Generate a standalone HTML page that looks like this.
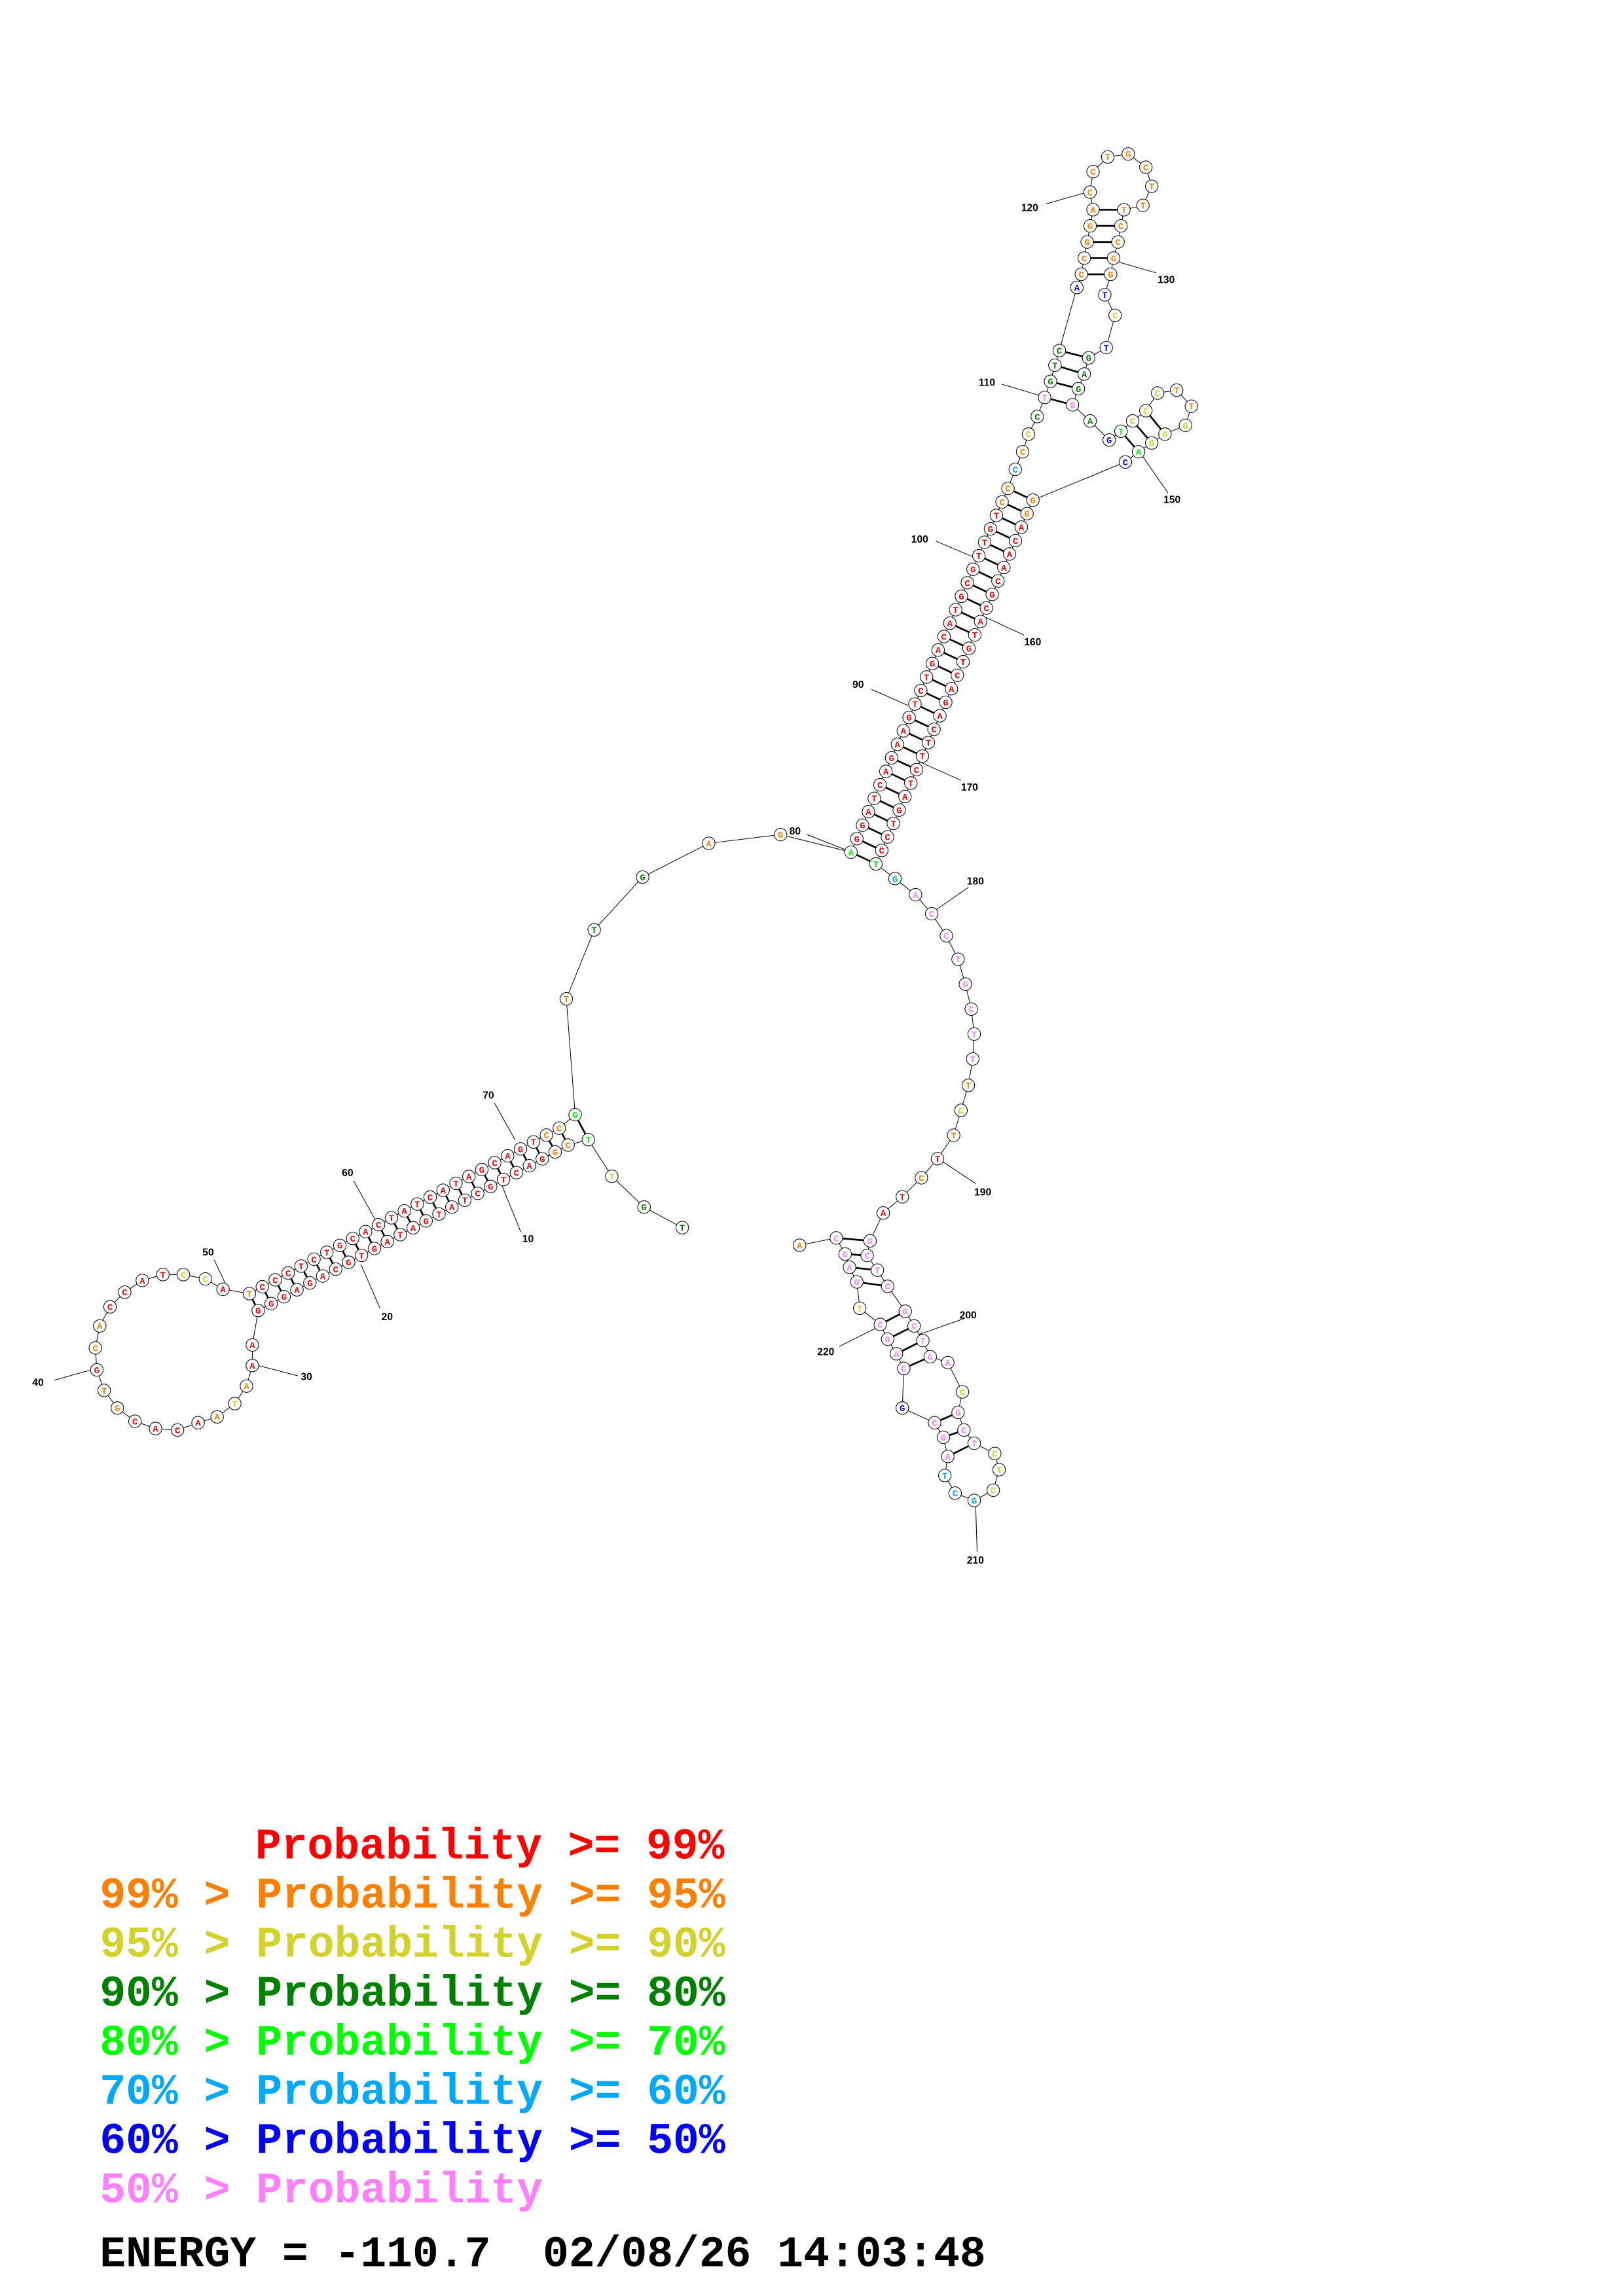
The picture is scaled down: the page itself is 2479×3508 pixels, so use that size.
<!DOCTYPE html>
<html><head><meta charset="utf-8"><style>
html,body{margin:0;padding:0;background:#fff}
svg{display:block}
.n circle{fill:#fff;stroke:#000;stroke-width:.45}
.t text{font-family:"Liberation Mono",monospace;font-weight:bold;font-size:6.2px;text-anchor:middle}
.r{fill:#ff0000}.o{fill:#ff8000}.y{fill:#d2d22a}.g{fill:#008000}.l{fill:#00ff00}.c{fill:#00a8ff}.b{fill:#0000ff}.p{fill:#ff80ff}
.lb text{font-family:"Liberation Sans",sans-serif;font-weight:bold;font-size:7px}
.lg{font-family:"Liberation Mono",monospace;font-weight:bold;font-size:29.6px}
</style></head><body>
<svg width="2479" height="3508" viewBox="0 0 1106.2 1565.4" preserveAspectRatio="none" xmlns="http://www.w3.org/2000/svg">
<rect width="1106.2" height="1565.4" fill="#fff"/>
<!-- backbone -->
<path fill="none" stroke="#000" stroke-width=".45" d="M465,837 L439,823 L417,802 L401,777 L387.2,780.7 L378.4,785.4 L369.6,790.1 L360.8,794.8 L352,799.5 L343.2,804.2 L334.4,808.9 L325.6,813.6 L316.8,818.3 L308,823 L299.2,827.7 L290.4,832.4 L281.6,837.1 L272.8,841.8 L264,846.5 L255.2,851.2 L246.4,855.9 L237.6,860.6 L228.8,865.3 L220,870 L211.2,874.7 L202.4,879.4 L193.6,884.1 L184.8,888.8 L176,893.5 L172,917 L172,931 L168,945 L160,957 L148,966 L135,970 L121,975 L106,974 L92,969 L80,960 L71,948 L66,934 L65,919 L68,904 L75,891 L85,881 L97,873 L111,869 L125,869 L140,872 L152,879 L170,882 L178.8,877.3 L187.6,872.6 L196.4,867.9 L205.2,863.2 L214,858.5 L222.8,853.8 L231.6,849.1 L240.4,844.4 L249.2,839.7 L258,835 L266.8,830.3 L275.6,825.6 L284.4,820.9 L293.2,816.2 L302,811.5 L310.8,806.8 L319.6,802.1 L328.4,797.4 L337.2,792.7 L346,788 L354.8,783.3 L363.6,778.6 L372.4,773.9 L381.2,769.2 L392,760 L386,681 L405,634 L438,598 L483,575 L532,569 L580,581 L687,333 L692,320 L697,308 L701,296 L707,284 L712,271 L716,260 L719,249 L722,239 L734,196 L737,187 L739,176 L741,165 L743,154 L745,143 L743,131 L745,117 L755,107 L769,105 L781,114 L785,127 L779,140 L766,143 L764,154 L762,165 L759,176 L757,187 L753,201 L760,215 L754,237 L742,244 L739,255 L735,265 L731,276 L743,287 L756,300 L764,294 L772,287 L781,280 L789,268 L802,266 L812,277 L808,290 L794,296 L785,302 L776,308 L767,315 L704,341 L597,589 L610,599 L624,610 L635,623 L645,638 L653,654 L658,671 L662,688 L664,705 L663,722 L660,740 L655,757 L650,774 L639,790 L628,803 L615,816 L602,827 L593,846 L591,856 L598,866 L605,877 L617,894 L623,904 L629,914 L634,925 L646,929 L656,949 L653,963 L657,975 L664,984 L678,991 L681,1002 L677,1016 L664,1023 L651,1018 L644,1006 L646,993 L643,980 L637,970 L615,960 L616,933 L611,923 L605,913 L600,903 L586,892 L584,874 L579,864 L576,855 L570,844 L545,849"/>
<!-- pairs -->
<path fill="none" stroke="#000" stroke-width="1.2" d="M170,882L176,893.5M178.8,877.3L184.8,888.8M187.6,872.6L193.6,884.1M196.4,867.9L202.4,879.4M205.2,863.2L211.2,874.7M214,858.5L220,870M222.8,853.8L228.8,865.3M231.6,849.1L237.6,860.6M240.4,844.4L246.4,855.9M249.2,839.7L255.2,851.2M258,835L264,846.5M266.8,830.3L272.8,841.8M275.6,825.6L281.6,837.1M284.4,820.9L290.4,832.4M293.2,816.2L299.2,827.7M302,811.5L308,823M310.8,806.8L316.8,818.3M319.6,802.1L325.6,813.6M328.4,797.4L334.4,808.9M337.2,792.7L343.2,804.2M346,788L352,799.5M354.8,783.3L360.8,794.8M363.6,778.6L369.6,790.1M372.4,773.9L378.4,785.4M381.2,769.2L387.2,780.7M392,760L401,777
M580,581l17,8M584,571.8l17,8M587.9,562.6l17,8M591.9,553.4l17,8M595.9,544.3l17,8M599.8,535.1l17,8M603.8,525.9l17,8M607.7,516.7l17,8M611.7,507.5l17,8M615.7,498.3l17,8M619.6,489.2l17,8M623.6,480l17,8M627.6,470.8l17,8M631.5,461.6l17,8M635.5,452.4l17,8M639.4,443.2l17,8M643.4,434l17,8M647.4,424.9l17,8M651.3,415.7l17,8M655.3,406.5l17,8M659.3,397.3l17,8M663.2,388.1l17,8M667.2,378.9l17,8M671.1,369.7l17,8M675.1,360.6l17,8M679.1,351.4l17,8M683,342.2l17,8M687,333l17,8
M722,239L742,244M719,249L739,255M716,260L735,265M712,271L731,276M737,187L757,187M739,176L759,176M741,165L762,165M743,154L764,154M745,143L766,143
M764,294L776,308M772,287L785,302M781,280L794,296
M593,846L570,844M591,856L576,855M598,866L579,864M605,877L584,874M617,894L600,903M623,904L605,913M629,914L611,923M634,925L616,933M653,963L637,970M657,975L643,980M664,984L646,993"/>
<!-- label lines -->
<path fill="none" stroke="#000" stroke-width=".45" d="M713,139L741,131M788,186L760,178M683,262L710,270M796,336L778,310M638,369L664,380M594,470L619,481M698,433L672,421M655,532L628,520M550,569L578,580M660,605L637,621M665,807L641,791M657,899L626,910M666,1058L665,1027M572,918L598,905M337,752L351,777M241,805L256,832M355,840L342,808M259,892L246,862M203,938L176,931M37,941L62,934M146,859L154,876"/>
<g class="lb">
<text x="696" y="144">120</text><text x="789" y="193">130</text><text x="667" y="263">110</text><text x="793" y="343">150</text><text x="621" y="370">100</text><text x="581" y="469">90</text><text x="698" y="440">160</text><text x="655" y="539">170</text><text x="538" y="569">80</text><text x="659" y="603">180</text><text x="664" y="815">190</text><text x="654" y="899">200</text><text x="659" y="1066">210</text><text x="557" y="924">220</text><text x="329" y="749">70</text><text x="233" y="802">60</text><text x="356" y="847">10</text><text x="260" y="900">20</text><text x="205" y="941">30</text><text x="22" y="945">40</text><text x="138" y="856">50</text>
</g>
<!-- circles -->
<g class="n">
<circle cx="465" cy="837" r="4.3"/><circle cx="439" cy="823" r="4.3"/><circle cx="417" cy="802" r="4.3"/><circle cx="401" cy="777" r="4.3"/>
<circle cx="387.2" cy="780.7" r="4.3"/><circle cx="378.4" cy="785.4" r="4.3"/><circle cx="369.6" cy="790.1" r="4.3"/><circle cx="360.8" cy="794.8" r="4.3"/><circle cx="352" cy="799.5" r="4.3"/><circle cx="343.2" cy="804.2" r="4.3"/><circle cx="334.4" cy="808.9" r="4.3"/><circle cx="325.6" cy="813.6" r="4.3"/><circle cx="316.8" cy="818.3" r="4.3"/><circle cx="308" cy="823" r="4.3"/><circle cx="299.2" cy="827.7" r="4.3"/><circle cx="290.4" cy="832.4" r="4.3"/><circle cx="281.6" cy="837.1" r="4.3"/><circle cx="272.8" cy="841.8" r="4.3"/><circle cx="264" cy="846.5" r="4.3"/><circle cx="255.2" cy="851.2" r="4.3"/><circle cx="246.4" cy="855.9" r="4.3"/><circle cx="237.6" cy="860.6" r="4.3"/><circle cx="228.8" cy="865.3" r="4.3"/><circle cx="220" cy="870" r="4.3"/><circle cx="211.2" cy="874.7" r="4.3"/><circle cx="202.4" cy="879.4" r="4.3"/><circle cx="193.6" cy="884.1" r="4.3"/><circle cx="184.8" cy="888.8" r="4.3"/><circle cx="176" cy="893.5" r="4.3"/>
<circle cx="172" cy="917" r="4.3"/><circle cx="172" cy="931" r="4.3"/><circle cx="168" cy="945" r="4.3"/><circle cx="160" cy="957" r="4.3"/><circle cx="148" cy="966" r="4.3"/><circle cx="135" cy="970" r="4.3"/><circle cx="121" cy="975" r="4.3"/><circle cx="106" cy="974" r="4.3"/><circle cx="92" cy="969" r="4.3"/><circle cx="80" cy="960" r="4.3"/><circle cx="71" cy="948" r="4.3"/><circle cx="66" cy="934" r="4.3"/><circle cx="65" cy="919" r="4.3"/><circle cx="68" cy="904" r="4.3"/><circle cx="75" cy="891" r="4.3"/><circle cx="85" cy="881" r="4.3"/><circle cx="97" cy="873" r="4.3"/><circle cx="111" cy="869" r="4.3"/><circle cx="125" cy="869" r="4.3"/><circle cx="140" cy="872" r="4.3"/><circle cx="152" cy="879" r="4.3"/>
<circle cx="170" cy="882" r="4.3"/><circle cx="178.8" cy="877.3" r="4.3"/><circle cx="187.6" cy="872.6" r="4.3"/><circle cx="196.4" cy="867.9" r="4.3"/><circle cx="205.2" cy="863.2" r="4.3"/><circle cx="214" cy="858.5" r="4.3"/><circle cx="222.8" cy="853.8" r="4.3"/><circle cx="231.6" cy="849.1" r="4.3"/><circle cx="240.4" cy="844.4" r="4.3"/><circle cx="249.2" cy="839.7" r="4.3"/><circle cx="258" cy="835" r="4.3"/><circle cx="266.8" cy="830.3" r="4.3"/><circle cx="275.6" cy="825.6" r="4.3"/><circle cx="284.4" cy="820.9" r="4.3"/><circle cx="293.2" cy="816.2" r="4.3"/><circle cx="302" cy="811.5" r="4.3"/><circle cx="310.8" cy="806.8" r="4.3"/><circle cx="319.6" cy="802.1" r="4.3"/><circle cx="328.4" cy="797.4" r="4.3"/><circle cx="337.2" cy="792.7" r="4.3"/><circle cx="346" cy="788" r="4.3"/><circle cx="354.8" cy="783.3" r="4.3"/><circle cx="363.6" cy="778.6" r="4.3"/><circle cx="372.4" cy="773.9" r="4.3"/><circle cx="381.2" cy="769.2" r="4.3"/><circle cx="392" cy="760" r="4.3"/>
<circle cx="386" cy="681" r="4.3"/><circle cx="405" cy="634" r="4.3"/><circle cx="438" cy="598" r="4.3"/><circle cx="483" cy="575" r="4.3"/><circle cx="532" cy="569" r="4.3"/>
<circle cx="580" cy="581" r="4.3"/><circle cx="584" cy="571.8" r="4.3"/><circle cx="587.9" cy="562.6" r="4.3"/><circle cx="591.9" cy="553.4" r="4.3"/><circle cx="595.9" cy="544.3" r="4.3"/><circle cx="599.8" cy="535.1" r="4.3"/><circle cx="603.8" cy="525.9" r="4.3"/><circle cx="607.7" cy="516.7" r="4.3"/><circle cx="611.7" cy="507.5" r="4.3"/><circle cx="615.7" cy="498.3" r="4.3"/><circle cx="619.6" cy="489.2" r="4.3"/><circle cx="623.6" cy="480" r="4.3"/><circle cx="627.6" cy="470.8" r="4.3"/><circle cx="631.5" cy="461.6" r="4.3"/><circle cx="635.5" cy="452.4" r="4.3"/><circle cx="639.4" cy="443.2" r="4.3"/><circle cx="643.4" cy="434" r="4.3"/><circle cx="647.4" cy="424.9" r="4.3"/><circle cx="651.3" cy="415.7" r="4.3"/><circle cx="655.3" cy="406.5" r="4.3"/><circle cx="659.3" cy="397.3" r="4.3"/><circle cx="663.2" cy="388.1" r="4.3"/><circle cx="667.2" cy="378.9" r="4.3"/><circle cx="671.1" cy="369.7" r="4.3"/><circle cx="675.1" cy="360.6" r="4.3"/><circle cx="679.1" cy="351.4" r="4.3"/><circle cx="683" cy="342.2" r="4.3"/><circle cx="687" cy="333" r="4.3"/>
<circle cx="597" cy="589" r="4.3"/><circle cx="601" cy="579.8" r="4.3"/><circle cx="604.9" cy="570.6" r="4.3"/><circle cx="608.9" cy="561.4" r="4.3"/><circle cx="612.9" cy="552.3" r="4.3"/><circle cx="616.8" cy="543.1" r="4.3"/><circle cx="620.8" cy="533.9" r="4.3"/><circle cx="624.7" cy="524.7" r="4.3"/><circle cx="628.7" cy="515.5" r="4.3"/><circle cx="632.7" cy="506.3" r="4.3"/><circle cx="636.6" cy="497.2" r="4.3"/><circle cx="640.6" cy="488" r="4.3"/><circle cx="644.6" cy="478.8" r="4.3"/><circle cx="648.5" cy="469.6" r="4.3"/><circle cx="652.5" cy="460.4" r="4.3"/><circle cx="656.4" cy="451.2" r="4.3"/><circle cx="660.4" cy="442" r="4.3"/><circle cx="664.4" cy="432.9" r="4.3"/><circle cx="668.3" cy="423.7" r="4.3"/><circle cx="672.3" cy="414.5" r="4.3"/><circle cx="676.3" cy="405.3" r="4.3"/><circle cx="680.2" cy="396.1" r="4.3"/><circle cx="684.2" cy="386.9" r="4.3"/><circle cx="688.1" cy="377.7" r="4.3"/><circle cx="692.1" cy="368.6" r="4.3"/><circle cx="696.1" cy="359.4" r="4.3"/><circle cx="700" cy="350.2" r="4.3"/><circle cx="704" cy="341" r="4.3"/>
<circle cx="692" cy="320" r="4.3"/><circle cx="697" cy="308" r="4.3"/><circle cx="701" cy="296" r="4.3"/><circle cx="707" cy="284" r="4.3"/><circle cx="712" cy="271" r="4.3"/><circle cx="716" cy="260" r="4.3"/><circle cx="719" cy="249" r="4.3"/><circle cx="722" cy="239" r="4.3"/><circle cx="734" cy="196" r="4.3"/>
<circle cx="737" cy="187" r="4.3"/><circle cx="739" cy="176" r="4.3"/><circle cx="741" cy="165" r="4.3"/><circle cx="743" cy="154" r="4.3"/><circle cx="745" cy="143" r="4.3"/><circle cx="743" cy="131" r="4.3"/><circle cx="745" cy="117" r="4.3"/><circle cx="755" cy="107" r="4.3"/><circle cx="769" cy="105" r="4.3"/><circle cx="781" cy="114" r="4.3"/><circle cx="785" cy="127" r="4.3"/><circle cx="779" cy="140" r="4.3"/><circle cx="766" cy="143" r="4.3"/><circle cx="764" cy="154" r="4.3"/><circle cx="762" cy="165" r="4.3"/><circle cx="759" cy="176" r="4.3"/><circle cx="757" cy="187" r="4.3"/>
<circle cx="753" cy="201" r="4.3"/><circle cx="760" cy="215" r="4.3"/><circle cx="754" cy="237" r="4.3"/><circle cx="742" cy="244" r="4.3"/><circle cx="739" cy="255" r="4.3"/><circle cx="735" cy="265" r="4.3"/><circle cx="731" cy="276" r="4.3"/><circle cx="743" cy="287" r="4.3"/><circle cx="756" cy="300" r="4.3"/>
<circle cx="764" cy="294" r="4.3"/><circle cx="772" cy="287" r="4.3"/><circle cx="781" cy="280" r="4.3"/><circle cx="789" cy="268" r="4.3"/><circle cx="802" cy="266" r="4.3"/><circle cx="812" cy="277" r="4.3"/><circle cx="808" cy="290" r="4.3"/><circle cx="794" cy="296" r="4.3"/><circle cx="785" cy="302" r="4.3"/><circle cx="776" cy="308" r="4.3"/><circle cx="767" cy="315" r="4.3"/>
<circle cx="610" cy="599" r="4.3"/><circle cx="624" cy="610" r="4.3"/><circle cx="635" cy="623" r="4.3"/><circle cx="645" cy="638" r="4.3"/><circle cx="653" cy="654" r="4.3"/><circle cx="658" cy="671" r="4.3"/><circle cx="662" cy="688" r="4.3"/><circle cx="664" cy="705" r="4.3"/><circle cx="663" cy="722" r="4.3"/><circle cx="660" cy="740" r="4.3"/><circle cx="655" cy="757" r="4.3"/><circle cx="650" cy="774" r="4.3"/><circle cx="639" cy="790" r="4.3"/><circle cx="628" cy="803" r="4.3"/><circle cx="615" cy="816" r="4.3"/><circle cx="602" cy="827" r="4.3"/>
<circle cx="593" cy="846" r="4.3"/><circle cx="591" cy="856" r="4.3"/><circle cx="598" cy="866" r="4.3"/><circle cx="605" cy="877" r="4.3"/><circle cx="617" cy="894" r="4.3"/><circle cx="623" cy="904" r="4.3"/><circle cx="629" cy="914" r="4.3"/><circle cx="634" cy="925" r="4.3"/><circle cx="646" cy="929" r="4.3"/><circle cx="656" cy="949" r="4.3"/><circle cx="653" cy="963" r="4.3"/><circle cx="657" cy="975" r="4.3"/><circle cx="664" cy="984" r="4.3"/><circle cx="678" cy="991" r="4.3"/><circle cx="681" cy="1002" r="4.3"/><circle cx="677" cy="1016" r="4.3"/><circle cx="664" cy="1023" r="4.3"/><circle cx="651" cy="1018" r="4.3"/><circle cx="644" cy="1006" r="4.3"/><circle cx="646" cy="993" r="4.3"/><circle cx="643" cy="980" r="4.3"/><circle cx="637" cy="970" r="4.3"/><circle cx="615" cy="960" r="4.3"/><circle cx="616" cy="933" r="4.3"/><circle cx="611" cy="923" r="4.3"/><circle cx="605" cy="913" r="4.3"/><circle cx="600" cy="903" r="4.3"/><circle cx="586" cy="892" r="4.3"/><circle cx="584" cy="874" r="4.3"/><circle cx="579" cy="864" r="4.3"/><circle cx="576" cy="855" r="4.3"/><circle cx="570" cy="844" r="4.3"/><circle cx="545" cy="849" r="4.3"/>
</g>
<!-- letters -->
<g class="t">
<text class="g" x="465" y="839.2">T</text><text class="g" x="439" y="825.2">G</text><text class="y" x="417" y="804.2">T</text><text class="l" x="401" y="779.2">T</text>
<text class="o" x="387.2" y="782.9">C</text><text class="o" x="378.4" y="787.6">G</text><text class="r" x="369.6" y="792.3">G</text><text class="r" x="360.8" y="797">A</text><text class="r" x="352" y="801.7">C</text><text class="r" x="343.2" y="806.4">T</text><text class="r" x="334.4" y="811.1">G</text><text class="r" x="325.6" y="815.8">C</text><text class="r" x="316.8" y="820.5">T</text><text class="r" x="308" y="825.2">A</text><text class="r" x="299.2" y="829.9">T</text><text class="r" x="290.4" y="834.6">G</text><text class="r" x="281.6" y="839.3">A</text><text class="r" x="272.8" y="844">T</text><text class="r" x="264" y="848.7">A</text><text class="r" x="255.2" y="853.4">G</text><text class="r" x="246.4" y="858.1">T</text><text class="r" x="237.6" y="862.8">G</text><text class="r" x="228.8" y="867.5">C</text><text class="r" x="220" y="872.2">A</text><text class="r" x="211.2" y="876.9">G</text><text class="r" x="202.4" y="881.6">A</text><text class="r" x="193.6" y="886.3">G</text><text class="r" x="184.8" y="891">G</text><text class="r" x="176" y="895.7">G</text>
<text class="r" x="172" y="919.2">A</text><text class="r" x="172" y="933.2">A</text><text class="o" x="168" y="947.2">A</text><text class="y" x="160" y="959.2">T</text><text class="o" x="148" y="968.2">A</text><text class="r" x="135" y="972.2">A</text><text class="r" x="121" y="977.2">C</text><text class="r" x="106" y="976.2">A</text><text class="r" x="92" y="971.2">C</text><text class="o" x="80" y="962.2">G</text><text class="o" x="71" y="950.2">T</text><text class="r" x="66" y="936.2">G</text><text class="o" x="65" y="921.2">C</text><text class="o" x="68" y="906.2">A</text><text class="r" x="75" y="893.2">C</text><text class="r" x="85" y="883.2">C</text><text class="r" x="97" y="875.2">A</text><text class="r" x="111" y="871.2">T</text><text class="y" x="125" y="871.2">C</text><text class="y" x="140" y="874.2">C</text><text class="r" x="152" y="881.2">A</text>
<text class="o" x="170" y="884.2">T</text><text class="r" x="178.8" y="879.5">C</text><text class="r" x="187.6" y="874.8">C</text><text class="r" x="196.4" y="870.1">C</text><text class="r" x="205.2" y="865.4">T</text><text class="r" x="214" y="860.7">C</text><text class="r" x="222.8" y="856">T</text><text class="r" x="231.6" y="851.3">G</text><text class="r" x="240.4" y="846.6">C</text><text class="r" x="249.2" y="841.9">A</text><text class="r" x="258" y="837.2">C</text><text class="r" x="266.8" y="832.5">T</text><text class="r" x="275.6" y="827.8">A</text><text class="r" x="284.4" y="823.1">T</text><text class="r" x="293.2" y="818.4">C</text><text class="r" x="302" y="813.7">A</text><text class="r" x="310.8" y="809">T</text><text class="r" x="319.6" y="804.3">A</text><text class="r" x="328.4" y="799.6">G</text><text class="r" x="337.2" y="794.9">C</text><text class="r" x="346" y="790.2">A</text><text class="r" x="354.8" y="785.5">G</text><text class="r" x="363.6" y="780.8">T</text><text class="o" x="372.4" y="776.1">C</text><text class="o" x="381.2" y="771.4">C</text><text class="l" x="392" y="762.2">G</text>
<text class="o" x="386" y="683.2">T</text><text class="g" x="405" y="636.2">T</text><text class="g" x="438" y="600.2">G</text><text class="o" x="483" y="577.2">A</text><text class="o" x="532" y="571.2">G</text>
<text class="l" x="580" y="583.2">A</text><text class="r" x="584" y="574">G</text><text class="r" x="587.9" y="564.8">G</text><text class="r" x="591.9" y="555.6">A</text><text class="r" x="595.9" y="546.5">T</text><text class="r" x="599.8" y="537.3">C</text><text class="r" x="603.8" y="528.1">A</text><text class="r" x="607.7" y="518.9">G</text><text class="r" x="611.7" y="509.7">A</text><text class="r" x="615.7" y="500.5">A</text><text class="r" x="619.6" y="491.4">G</text><text class="r" x="623.6" y="482.2">T</text><text class="r" x="627.6" y="473">C</text><text class="r" x="631.5" y="463.8">T</text><text class="r" x="635.5" y="454.6">G</text><text class="r" x="639.4" y="445.4">A</text><text class="r" x="643.4" y="436.2">C</text><text class="r" x="647.4" y="427.1">A</text><text class="r" x="651.3" y="417.9">T</text><text class="r" x="655.3" y="408.7">G</text><text class="r" x="659.3" y="399.5">C</text><text class="r" x="663.2" y="390.3">G</text><text class="r" x="667.2" y="381.1">T</text><text class="r" x="671.1" y="371.9">T</text><text class="r" x="675.1" y="362.8">G</text><text class="r" x="679.1" y="353.6">T</text><text class="o" x="683" y="344.4">C</text><text class="o" x="687" y="335.2">C</text>
<text class="l" x="597" y="591.2">T</text><text class="r" x="601" y="582">C</text><text class="r" x="604.9" y="572.8">C</text><text class="r" x="608.9" y="563.6">T</text><text class="r" x="612.9" y="554.5">G</text><text class="r" x="616.8" y="545.3">A</text><text class="r" x="620.8" y="536.1">T</text><text class="r" x="624.7" y="526.9">C</text><text class="r" x="628.7" y="517.7">T</text><text class="r" x="632.7" y="508.5">T</text><text class="r" x="636.6" y="499.4">C</text><text class="r" x="640.6" y="490.2">A</text><text class="r" x="644.6" y="481">G</text><text class="r" x="648.5" y="471.8">A</text><text class="r" x="652.5" y="462.6">C</text><text class="r" x="656.4" y="453.4">T</text><text class="r" x="660.4" y="444.2">G</text><text class="r" x="664.4" y="435.1">T</text><text class="r" x="668.3" y="425.9">A</text><text class="r" x="672.3" y="416.7">C</text><text class="r" x="676.3" y="407.5">G</text><text class="r" x="680.2" y="398.3">C</text><text class="r" x="684.2" y="389.1">A</text><text class="r" x="688.1" y="379.9">A</text><text class="r" x="692.1" y="370.8">C</text><text class="r" x="696.1" y="361.6">A</text><text class="o" x="700" y="352.4">G</text><text class="o" x="704" y="343.2">G</text>
<text class="c" x="692" y="322.2">C</text><text class="o" x="697" y="310.2">C</text><text class="y" x="701" y="298.2">C</text><text class="g" x="707" y="286.2">C</text><text class="p" x="712" y="273.2">T</text><text class="g" x="716" y="262.2">G</text><text class="g" x="719" y="251.2">T</text><text class="g" x="722" y="241.2">C</text><text class="b" x="734" y="198.2">A</text>
<text class="o" x="737" y="189.2">C</text><text class="o" x="739" y="178.2">C</text><text class="o" x="741" y="167.2">G</text><text class="o" x="743" y="156.2">G</text><text class="o" x="745" y="145.2">A</text><text class="o" x="743" y="133.2">C</text><text class="o" x="745" y="119.2">C</text><text class="o" x="755" y="109.2">T</text><text class="o" x="769" y="107.2">G</text><text class="o" x="781" y="116.2">C</text><text class="o" x="785" y="129.2">T</text><text class="o" x="779" y="142.2">T</text><text class="o" x="766" y="145.2">T</text><text class="o" x="764" y="156.2">C</text><text class="o" x="762" y="167.2">C</text><text class="o" x="759" y="178.2">G</text><text class="o" x="757" y="189.2">G</text>
<text class="b" x="753" y="203.2">T</text><text class="y" x="760" y="217.2">C</text><text class="b" x="754" y="239.2">T</text><text class="g" x="742" y="246.2">G</text><text class="g" x="739" y="257.2">A</text><text class="g" x="735" y="267.2">G</text><text class="p" x="731" y="278.2">G</text><text class="g" x="743" y="289.2">A</text><text class="b" x="756" y="302.2">G</text>
<text class="l" x="764" y="296.2">T</text><text class="y" x="772" y="289.2">C</text><text class="y" x="781" y="282.2">C</text><text class="y" x="789" y="270.2">C</text><text class="o" x="802" y="268.2">T</text><text class="o" x="812" y="279.2">T</text><text class="y" x="808" y="292.2">G</text><text class="y" x="794" y="298.2">G</text><text class="y" x="785" y="304.2">G</text><text class="l" x="776" y="310.2">A</text><text class="b" x="767" y="317.2">C</text>
<text class="c" x="610" y="601.2">G</text><text class="p" x="624" y="612.2">A</text><text class="p" x="635" y="625.2">C</text><text class="p" x="645" y="640.2">C</text><text class="p" x="653" y="656.2">T</text><text class="p" x="658" y="673.2">G</text><text class="p" x="662" y="690.2">C</text><text class="p" x="664" y="707.2">T</text><text class="p" x="663" y="724.2">T</text><text class="o" x="660" y="742.2">T</text><text class="y" x="655" y="759.2">C</text><text class="o" x="650" y="776.2">T</text><text class="r" x="639" y="792.2">T</text><text class="o" x="628" y="805.2">C</text><text class="r" x="615" y="818.2">T</text><text class="r" x="602" y="829.2">A</text>
<text class="p" x="593" y="848.2">G</text><text class="p" x="591" y="858.2">C</text><text class="p" x="598" y="868.2">T</text><text class="p" x="605" y="879.2">C</text><text class="p" x="617" y="896.2">G</text><text class="p" x="623" y="906.2">C</text><text class="p" x="629" y="916.2">T</text><text class="p" x="634" y="927.2">G</text><text class="p" x="646" y="931.2">A</text><text class="y" x="656" y="951.2">C</text><text class="p" x="653" y="965.2">G</text><text class="p" x="657" y="977.2">C</text><text class="p" x="664" y="986.2">T</text><text class="y" x="678" y="993.2">C</text><text class="y" x="681" y="1004.2">T</text><text class="y" x="677" y="1018.2">C</text><text class="c" x="664" y="1025.2">G</text><text class="c" x="651" y="1020.2">C</text><text class="c" x="644" y="1008.2">T</text><text class="p" x="646" y="995.2">A</text><text class="p" x="643" y="982.2">G</text><text class="p" x="637" y="972.2">C</text><text class="b" x="615" y="962.2">G</text><text class="p" x="616" y="935.2">C</text><text class="p" x="611" y="925.2">A</text><text class="p" x="605" y="915.2">G</text><text class="p" x="600" y="905.2">C</text><text class="y" x="586" y="894.2">T</text><text class="p" x="584" y="876.2">G</text><text class="p" x="579" y="866.2">A</text><text class="p" x="576" y="857.2">G</text><text class="p" x="570" y="846.2">C</text><text class="o" x="545" y="851.2">A</text>
</g>
<!-- legend -->
<text class="lg" x="174" y="1267" fill="#ff0000">Probability &gt;= 99%</text>
<text class="lg" x="68" y="1300.5" fill="#ff8000">99% &gt; Probability &gt;= 95%</text>
<text class="lg" x="68" y="1334" fill="#d2d22a">95% &gt; Probability &gt;= 90%</text>
<text class="lg" x="68" y="1367.5" fill="#008000">90% &gt; Probability &gt;= 80%</text>
<text class="lg" x="68" y="1401" fill="#00ff00">80% &gt; Probability &gt;= 70%</text>
<text class="lg" x="68" y="1434.5" fill="#00a8ff">70% &gt; Probability &gt;= 60%</text>
<text class="lg" x="68" y="1468" fill="#0000ff">60% &gt; Probability &gt;= 50%</text>
<text class="lg" x="68" y="1501.5" fill="#ff80ff">50% &gt; Probability</text>
<text class="lg" x="68" y="1545" fill="#000" xml:space="preserve">ENERGY = -110.7  02/08/26 14:03:48</text>
</svg>
</body></html>
